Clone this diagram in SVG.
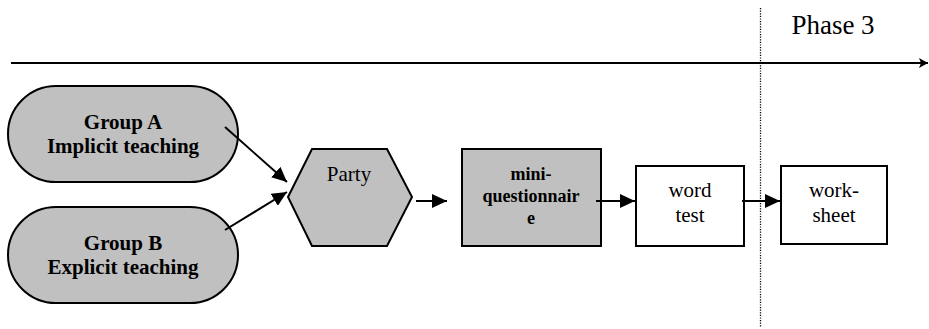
<svg xmlns="http://www.w3.org/2000/svg" width="929" height="329" viewBox="0 0 929 329">
<style>
.shape{stroke:#000;stroke-width:2}
.gray{fill:#c0c0c0}
.white{fill:#fff}
text{font-family:'Liberation Serif','Times New Roman',Tinos,'DejaVu Serif',serif;fill:#000;text-anchor:middle}
.b{font-weight:bold}
.conn{stroke:#000;stroke-width:2;fill:none}
</style>
<defs>
<marker id="ah" markerUnits="userSpaceOnUse" markerWidth="16" markerHeight="14" refX="15" refY="7" orient="auto">
<path d="M0,0 L15,7 L0,14 Z" fill="#000"/>
</marker>
<marker id="ah2" markerUnits="userSpaceOnUse" markerWidth="10" markerHeight="10" refX="9" refY="5" orient="auto">
<path d="M0,0 L9,5 L0,10 L2,5 Z" fill="#000"/>
</marker>
</defs>
<g id="timeline">
<line class="conn" x1="11" y1="63" x2="928" y2="63" stroke-width="2.5" marker-end="url(#ah2)"/>
<line x1="760.5" y1="8" x2="760.5" y2="327" stroke="#000" stroke-width="1.3" stroke-dasharray="1.2 1.4"/>
<text x="833" y="34" font-size="27" font-family="Liberation Serif, serif">Phase 3</text>
</g>
<g id="groupA">
<rect class="shape gray" x="8" y="86" width="230" height="96" rx="48" ry="48"/>
<text class="b" x="123" y="129" font-size="21" font-family="Liberation Serif, serif">Group A</text>
<text class="b" x="123" y="153" font-size="21" font-family="Liberation Serif, serif">Implicit teaching</text>
</g>
<g id="groupB">
<rect class="shape gray" x="8" y="207" width="230" height="96" rx="48" ry="48"/>
<text class="b" x="123" y="250" font-size="21" font-family="Liberation Serif, serif">Group B</text>
<text class="b" x="123" y="274" font-size="21" font-family="Liberation Serif, serif">Explicit teaching</text>
</g>
<g id="party">
<polygon class="shape gray" points="288,197 312,149 387,149 412,197 387,246 312,246" stroke-width="1.6"/>
<text x="349" y="181" font-size="21" font-family="Liberation Serif, serif">Party</text>
</g>
<g id="miniq">
<rect class="shape gray" x="462" y="149" width="139" height="97"/>
<text class="b" x="531" y="180" font-size="18" font-family="Liberation Serif, serif">mini-</text>
<text class="b" x="531" y="202" font-size="18" font-family="Liberation Serif, serif">questionnair</text>
<text class="b" x="531" y="224" font-size="18" font-family="Liberation Serif, serif">e</text>
</g>
<g id="wordtest">
<rect class="shape white" x="636" y="166" width="108" height="80"/>
<text x="690" y="197" font-size="21" font-family="Liberation Serif, serif">word</text>
<text x="690" y="222" font-size="21" font-family="Liberation Serif, serif">test</text>
</g>
<g id="worksheet">
<rect class="shape white" x="781" y="166" width="106" height="78"/>
<text x="834" y="197" font-size="21" font-family="Liberation Serif, serif">work-</text>
<text x="834" y="222" font-size="21" font-family="Liberation Serif, serif">sheet</text>
</g>
<g id="connectors">
<line class="conn" x1="225" y1="127" x2="287" y2="182" marker-end="url(#ah)"/>
<line class="conn" x1="225" y1="230" x2="287" y2="192" marker-end="url(#ah)"/>
<line class="conn" x1="416" y1="201" x2="447" y2="201" marker-end="url(#ah)"/>
<line class="conn" x1="596" y1="201" x2="635" y2="201" marker-end="url(#ah)"/>
<line class="conn" x1="742" y1="201" x2="780" y2="201" marker-end="url(#ah)"/>
</g>
</svg>
